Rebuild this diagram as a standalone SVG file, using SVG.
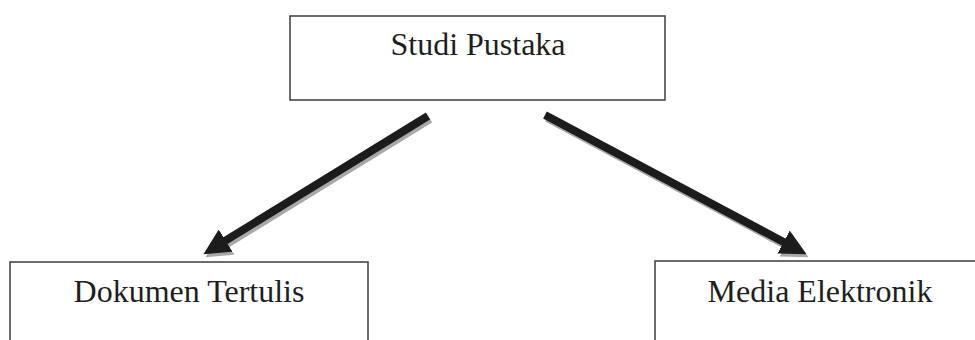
<svg xmlns="http://www.w3.org/2000/svg" width="975" height="340" viewBox="0 0 975 340">
<style>
.box{fill:#fff;stroke:#3c3c3c;stroke-width:1.5}
.lbl{font-family:"Liberation Serif","Times New Roman",serif;font-size:32px;fill:#1e1e1e;text-anchor:middle}
.shaft{stroke:#1c1c1c;stroke-width:8;fill:none}
.shadow{stroke:#a8a8a8;stroke-width:8;fill:none}
</style>
<defs>
<marker id="headB" viewBox="0 0 3.25 3.25" markerWidth="3.25" markerHeight="3.25" refX="0.2" refY="1.625" orient="auto"><path d="M0,0 L3.25,1.625 L0,3.25 z" fill="#1c1c1c"/></marker>
<marker id="headG" viewBox="0 0 3.25 3.25" markerWidth="3.25" markerHeight="3.25" refX="0.2" refY="1.625" orient="auto"><path d="M0,0 L3.25,1.625 L0,3.25 z" fill="#a8a8a8"/></marker>
</defs>
<rect width="975" height="340" fill="#fff"/>
<g id="connectors">
<g transform="translate(2,3)">
<line class="shadow" x1="428" y1="116" x2="224.2" y2="241.4" marker-end="url(#headG)"/>
<line class="shadow" x1="545" y1="115" x2="785" y2="242.8" marker-end="url(#headG)"/>
</g>
<line class="shaft" x1="428" y1="116" x2="224.2" y2="241.4" marker-end="url(#headB)"/>
<line class="shaft" x1="545" y1="115" x2="785" y2="242.8" marker-end="url(#headB)"/>
</g>
<g id="studi-pustaka">
<rect class="box" x="290" y="16" width="375" height="84"/>
<text class="lbl" x="478" y="55">Studi Pustaka</text>
</g>
<g id="dokumen-tertulis">
<rect class="box" x="10" y="262" width="358" height="100"/>
<text class="lbl" x="189" y="302">Dokumen Tertulis</text>
</g>
<g id="media-elektronik">
<rect class="box" x="655" y="261" width="330" height="100"/>
<text class="lbl" x="820" y="302">Media Elektronik</text>
</g>
</svg>
